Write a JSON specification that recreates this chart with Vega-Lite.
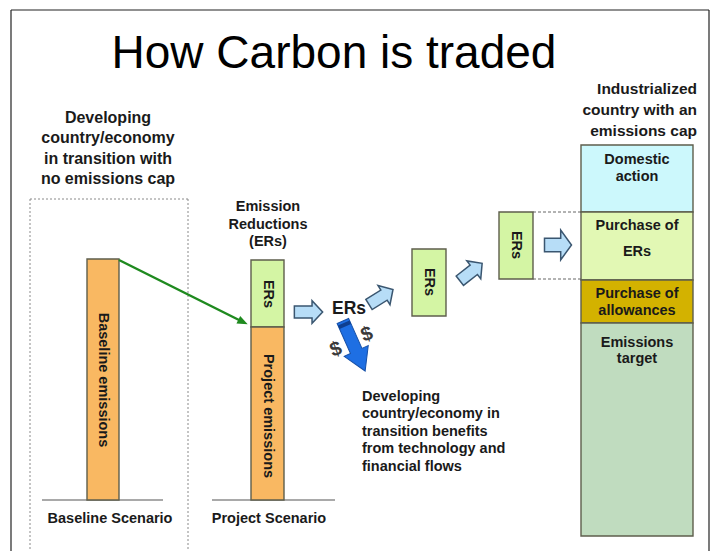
{
  "$schema": "https://vega.github.io/schema/vega-lite/v6.json",
  "width": 716,
  "height": 551,
  "autosize": "none",
  "padding": 0,
  "background": "white",
  "config": {"view": {"stroke": null}, "font": "Liberation Sans"},
  "datasets": {
    "frame": [
      {"x": 11, "y": 10, "x2": 709, "y2": 10},
      {"x": 11, "y": 10, "x2": 11, "y2": 551},
      {"x": 709, "y": 10, "x2": 709, "y2": 551}
    ],
    "dotted": [
      {"x": 30, "y": 199, "x2": 188, "y2": 199},
      {"x": 30, "y": 199, "x2": 30, "y2": 551},
      {"x": 188, "y": 199, "x2": 188, "y2": 551}
    ],
    "dashed": [
      {"x": 533, "y": 212, "x2": 581, "y2": 212},
      {"x": 533, "y": 279, "x2": 581, "y2": 279}
    ],
    "baselines": [
      {"x": 42, "y": 500, "x2": 163, "y2": 500},
      {"x": 212, "y": 500, "x2": 335, "y2": 500}
    ],
    "boxes": [
      {"part": "Baseline emissions", "kind": "emissions", "x": 87, "x2": 119, "y": 259, "y2": 500},
      {"part": "ERs (project)", "kind": "ers", "x": 251, "x2": 284, "y": 260, "y2": 327},
      {"part": "Project emissions", "kind": "emissions", "x": 251, "x2": 284, "y": 327, "y2": 500},
      {"part": "ERs transfer 1", "kind": "ers", "x": 412, "x2": 446, "y": 249, "y2": 316},
      {"part": "ERs transfer 2", "kind": "ers", "x": 499, "x2": 533, "y": 212, "y2": 279},
      {"part": "Domestic action", "kind": "domestic", "x": 581, "x2": 693, "y": 145, "y2": 212},
      {"part": "Purchase of ERs", "kind": "purchase", "x": 581, "x2": 693, "y": 212, "y2": 280},
      {"part": "Purchase of allowances", "kind": "allowances", "x": 581, "x2": 693, "y": 280, "y2": 323},
      {"part": "Emissions target", "kind": "target", "x": 581, "x2": 693, "y": 323, "y2": 536}
    ],
    "greenArrow": [
      {"x": 119, "y": 260, "x2": 243, "y2": 322}
    ],
    "greenHead": [
      {"x": 243, "y": 322, "direction": 26.6}
    ],
    "blockArrows": [
      {"x": 308.5, "y": 312, "direction": 0},
      {"x": 381, "y": 297, "direction": -32},
      {"x": 471, "y": 272, "direction": -38}
    ],
    "blockArrowTall": [
      {"x": 558, "y": 245, "direction": 0}
    ],
    "blueArrow": [
      {"x": 354, "y": 346, "direction": 66}
    ],
    "title": [
      {"text": "How Carbon is traded", "x": 334, "y": 68}
    ],
    "leftBlock": [
      {"text": "Developing", "x": 108, "y": 123},
      {"text": "country/economy", "x": 108, "y": 143},
      {"text": "in transition with", "x": 108, "y": 164},
      {"text": "no emissions cap", "x": 108, "y": 184}
    ],
    "rightBlock": [
      {"text": "Industrialized", "x": 697, "y": 94},
      {"text": "country with an", "x": 697, "y": 115},
      {"text": "emissions cap", "x": 697, "y": 136}
    ],
    "centerLabels": [
      {"text": "Emission", "x": 268, "y": 211},
      {"text": "Reductions", "x": 268, "y": 229},
      {"text": "(ERs)", "x": 268, "y": 246},
      {"text": "Baseline Scenario", "x": 110, "y": 523},
      {"text": "Project Scenario", "x": 269, "y": 523},
      {"text": "Domestic", "x": 637, "y": 164},
      {"text": "action", "x": 637, "y": 181},
      {"text": "Purchase of", "x": 637, "y": 230},
      {"text": "ERs", "x": 637, "y": 256},
      {"text": "Purchase of", "x": 637, "y": 298},
      {"text": "allowances", "x": 637, "y": 315},
      {"text": "Emissions", "x": 637, "y": 347},
      {"text": "target", "x": 637, "y": 363}
    ],
    "paragraph": [
      {"text": "Developing", "x": 362, "y": 401},
      {"text": "country/economy in", "x": 362, "y": 418},
      {"text": "transition benefits", "x": 362, "y": 436},
      {"text": "from technology and", "x": 362, "y": 453},
      {"text": "financial flows", "x": 362, "y": 471}
    ],
    "rotated": [
      {"text": "Baseline emissions", "x": 103, "y": 380},
      {"text": "Project emissions", "x": 268, "y": 416},
      {"text": "ERs", "x": 268, "y": 294},
      {"text": "ERs", "x": 429, "y": 282},
      {"text": "ERs", "x": 516, "y": 245}
    ],
    "ersFlow": [
      {"text": "ERs", "x": 349, "y": 314}
    ],
    "dollars": [
      {"text": "$", "x": 338, "y": 355},
      {"text": "$", "x": 369, "y": 340}
    ]
  },
  "encoding": {
    "x": {"field": "x", "type": "quantitative", "scale": {"domain": [0, 716], "nice": false, "zero": false}, "axis": null},
    "y": {"field": "y", "type": "quantitative", "scale": {"domain": [0, 551], "nice": false, "zero": false, "reverse": true}, "axis": null}
  },
  "layer": [
    {
      "data": {"name": "frame"},
      "mark": {"type": "rule", "color": "#222222", "strokeWidth": 1.2},
      "encoding": {"x2": {"field": "x2"}, "y2": {"field": "y2"}}
    },
    {
      "data": {"name": "dotted"},
      "mark": {"type": "rule", "color": "#8a8a8a", "strokeWidth": 1, "strokeDash": [2, 2]},
      "encoding": {"x2": {"field": "x2"}, "y2": {"field": "y2"}}
    },
    {
      "data": {"name": "dashed"},
      "mark": {"type": "rule", "color": "#666666", "strokeWidth": 1, "strokeDash": [3, 2]},
      "encoding": {"x2": {"field": "x2"}, "y2": {"field": "y2"}}
    },
    {
      "data": {"name": "baselines"},
      "mark": {"type": "rule", "color": "#8c8c8c", "strokeWidth": 1.5},
      "encoding": {"x2": {"field": "x2"}, "y2": {"field": "y2"}}
    },
    {
      "data": {"name": "boxes"},
      "mark": {"type": "rect", "stroke": "#5e5e4c", "strokeWidth": 1.4},
      "encoding": {
        "x2": {"field": "x2"},
        "y2": {"field": "y2"},
        "fill": {
          "field": "kind",
          "type": "nominal",
          "legend": null,
          "scale": {
            "domain": ["emissions", "ers", "domestic", "purchase", "allowances", "target"],
            "range": ["#F9B862", "#D4F5A4", "#CCF8FC", "#E2F8B4", "#D3B200", "#C0DCBF"]
          }
        }
      }
    },
    {
      "data": {"name": "greenArrow"},
      "mark": {"type": "rule", "color": "#1f8a1f", "strokeWidth": 2.5},
      "encoding": {"x2": {"field": "x2"}, "y2": {"field": "y2"}}
    },
    {
      "data": {"name": "greenHead"},
      "mark": {"type": "point", "shape": "M-1,-0.8L1,0L-1,0.8Z", "filled": true, "color": "#1f8a1f", "size": 110, "opacity": 1},
      "encoding": {"angle": {"field": "direction", "type": "quantitative", "scale": null}}
    },
    {
      "data": {"name": "blockArrows"},
      "mark": {"type": "point", "shape": "M-1,-0.42L0.25,-0.42L0.25,-0.8L1,0L0.25,0.8L0.25,0.42L-1,0.42Z", "filled": true, "fill": "#B7DDF7", "stroke": "#3a5670", "strokeWidth": 1.5, "size": 800, "opacity": 1, "fillOpacity": 1},
      "encoding": {"angle": {"field": "direction", "type": "quantitative", "scale": null}}
    },
    {
      "data": {"name": "blockArrowTall"},
      "mark": {"type": "point", "shape": "M-1,-0.5L0.2,-0.5L0.2,-1.1L1,0L0.2,1.1L0.2,0.5L-1,0.5Z", "filled": true, "fill": "#B7DDF7", "stroke": "#3a5670", "strokeWidth": 1.5, "size": 729, "opacity": 1, "fillOpacity": 1},
      "encoding": {"angle": {"field": "direction", "type": "quantitative", "scale": null}}
    },
    {
      "data": {"name": "blueArrow"},
      "mark": {"type": "point", "shape": "M-1,-0.23L0.2,-0.23L0.2,-0.48L1,0L0.2,0.48L0.2,0.23L-1,0.23Z", "filled": true, "fill": "#1E6FE3", "stroke": "#1650a8", "strokeWidth": 1, "size": 3000, "opacity": 1, "fillOpacity": 1},
      "encoding": {"angle": {"field": "direction", "type": "quantitative", "scale": null}}
    },
    {
      "data": {"name": "blueArrow"},
      "mark": {"type": "point", "shape": "M-0.92,-0.23L-0.78,-0.23L-0.78,0.23L-0.92,0.23Z", "filled": true, "fill": "#0e3f8f", "strokeWidth": 0, "size": 3000, "opacity": 1, "fillOpacity": 1},
      "encoding": {"angle": {"field": "direction", "type": "quantitative", "scale": null}}
    },
    {
      "data": {"name": "title"},
      "mark": {"type": "text", "fontSize": 46, "font": "Liberation Sans", "align": "center", "baseline": "alphabetic", "color": "#000000"},
      "encoding": {"text": {"field": "text"}}
    },
    {
      "data": {"name": "leftBlock"},
      "mark": {"type": "text", "fontSize": 16, "fontWeight": "bold", "align": "center", "baseline": "alphabetic", "color": "#1a1a1a"},
      "encoding": {"text": {"field": "text"}}
    },
    {
      "data": {"name": "rightBlock"},
      "mark": {"type": "text", "fontSize": 15.5, "fontWeight": "bold", "align": "right", "baseline": "alphabetic", "color": "#1a1a1a"},
      "encoding": {"text": {"field": "text"}}
    },
    {
      "data": {"name": "centerLabels"},
      "mark": {"type": "text", "fontSize": 14.5, "fontWeight": "bold", "align": "center", "baseline": "alphabetic", "color": "#1a1a1a"},
      "encoding": {"text": {"field": "text"}}
    },
    {
      "data": {"name": "paragraph"},
      "mark": {"type": "text", "fontSize": 14.5, "fontWeight": "bold", "align": "left", "baseline": "alphabetic", "color": "#1a1a1a"},
      "encoding": {"text": {"field": "text"}}
    },
    {
      "data": {"name": "rotated"},
      "mark": {"type": "text", "fontSize": 14.5, "fontWeight": "bold", "align": "center", "baseline": "middle", "angle": 90, "color": "#1a1a1a"},
      "encoding": {"text": {"field": "text"}}
    },
    {
      "data": {"name": "ersFlow"},
      "mark": {"type": "text", "fontSize": 17.5, "fontWeight": "bold", "align": "center", "baseline": "alphabetic", "color": "#1a1a1a"},
      "encoding": {"text": {"field": "text"}}
    },
    {
      "data": {"name": "dollars"},
      "mark": {"type": "text", "fontSize": 20, "fontWeight": "bold", "align": "center", "baseline": "alphabetic", "angle": -20, "color": "#3a3a3a"},
      "encoding": {"text": {"field": "text"}}
    }
  ]
}
